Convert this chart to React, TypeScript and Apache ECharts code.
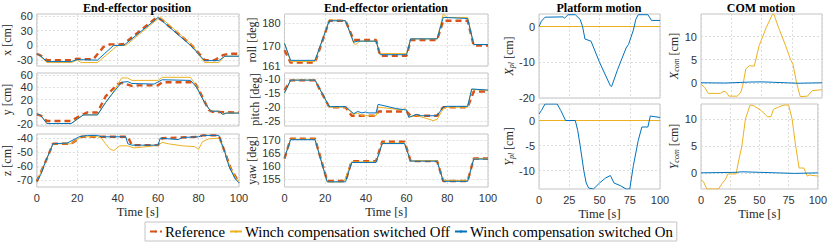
import React, { useEffect, useRef } from 'react';
import * as echarts from 'echarts';

// ---------- data (time [s], value) ----------
const posXRef = [[0,-17],[2,-21],[5,-30],[17,-30],[20,-27],[22,-28],[28,-28],[33,-3],[36,2],[41,2],[43,3],[59,56],[60,56],[62,51],[76,3],[83,-30],[88,-30],[92,-20],[95,-17],[100,-17]];
const posXOff = [[0,-17],[2,-23],[5,-35],[17,-35],[20,-30],[22,-35],[30,-35],[40,0],[44,0],[61,58],[77,0],[83,-35],[90,-35],[93,-22],[100,-22]];
const posXOn = [[0,-17],[2,-22],[5,-33],[17,-33],[20,-29],[30,-30],[38,0],[43,0],[60,57],[76,0],[83,-31],[90,-31],[93,-22],[100,-22]];

const posYRef = [[0,-4],[2,-6],[5,-15],[17,-15],[21,-7],[25,-1],[30,-1],[34,25],[40,45],[42,47],[47,42],[50,43],[60,43],[62,48],[78,48],[81,30],[85,3],[87,0],[100,-1]];
const posYOff = [[0,-3],[2,-6],[5,-19],[17,-19],[20,-12],[23,-5],[30,-5],[34,15],[37,28],[42,55],[45,55],[47,51],[60,51],[62,56],[76,56],[79,42],[83,15],[86,1],[90,1],[92,-4],[94,-2],[100,-2]];
const posYOn = [[0,-3],[2,-6],[5,-19],[17,-19],[20,-12],[23,-5],[30,-5],[34,15],[37,28],[42,48],[45,49],[47,46],[58,45],[62,52],[76,51],[79,40],[83,15],[86,1],[90,1],[92,-4],[94,-2],[100,-2]];

const posZRef = [[0,-71],[4,-58],[8,-44],[17,-44],[22,-39],[45,-39],[47,-45],[60,-45],[62,-40],[80,-39],[82,-38],[90,-38],[93,-50],[96,-62],[100,-72]];
const posZOff = [[0,-71],[4,-58],[8,-44],[17,-44],[22,-39],[30,-39],[32,-40],[34,-44],[36,-47.5],[38,-49],[41,-45.5],[45,-45.5],[48,-47],[55,-46],[60,-45],[62,-43],[65,-44],[72,-45.5],[78,-46],[80,-48],[82,-42.5],[85,-40.5],[90,-40],[93,-50],[96,-62],[99,-70],[100,-70.5]];
const posZOn = [[0,-71],[2,-66],[4,-58],[8,-44],[15,-43.5],[21,-39],[25,-38],[30,-38],[32,-39],[44,-39],[45,-44],[47,-45],[60,-45],[61,-40],[70,-41],[72,-39.5],[80,-39],[82,-38],[90,-38],[93,-50],[95,-60],[98,-69],[100,-72]];

const rollRef = [[0,168],[3,162.5],[15,162.5],[22,181],[30,181],[34,172.5],[45,172.5],[47,165.5],[60,165.5],[62,172.5],[75,172.5],[78,181],[90,181],[93,170],[100,170]];
const rollOff = [[0,171],[3,163],[15,163],[22,181.5],[30,181],[34,171],[35,170.5],[37,172],[45,172],[47,166.5],[60,166.5],[62,173],[75,173],[78,184],[80,182.5],[90,182.5],[93,170.5],[100,170.5]];
const rollOn = [[0,171],[3,163.5],[15,163.5],[22,181],[30,181],[34,171.5],[36,172],[45,172],[47,166],[60,166],[62,173],[75,173],[78,182.5],[90,182],[93,170.5],[100,170.5]];

const pitchRef = [[0,-14],[3,-10.6],[15,-10.6],[22,-20],[30,-20],[33,-23],[45,-23],[46,-21.5],[60,-21.5],[62,-23],[75,-23],[78,-20],[90,-20],[93,-14.5],[100,-14.5]];
const pitchOff = [[0,-15],[3,-10.5],[15,-10.5],[22,-20],[30,-20],[34,-22.5],[36,-22],[38,-23],[45,-23],[46,-20],[50,-20.3],[58,-21],[59,-20.3],[60,-21],[61,-23.5],[65,-23],[70,-24],[73,-24.7],[75,-24.3],[78,-20.5],[80,-20],[90,-20],[92,-13.8],[100,-14]];
const pitchOn = [[0,-15],[3,-10.5],[15,-10.5],[22,-19.8],[30,-19.8],[34,-22.3],[36,-21.5],[38,-22],[40,-21.7],[41,-22],[45,-22],[46,-19],[55,-20.5],[60,-21],[61,-23.5],[62,-23.3],[65,-22.5],[67,-23],[75,-23],[78,-19.9],[80,-19.7],[90,-19.7],[92,-13.6],[100,-14]];

const yawRef = [[0,163],[3,170.7],[15,170.7],[21,154.3],[30,154.3],[33,162],[45,162],[48,169.5],[59,169.5],[62,162],[75,162],[78,154.3],[90,154.3],[93,163],[100,163]];
const yawOff = [[0,163.3],[3,170.5],[15,170.5],[21,154],[29,154],[30,155.5],[33,161.7],[45,161.7],[48,169],[59,169],[62,162.2],[75,162.2],[78,154.5],[90,154.5],[93,163],[100,163]];
const yawOn = [[0,163.3],[3,170.3],[15,170.3],[21,154],[30,154],[33,161.5],[45,161.5],[48,168.8],[59,168.8],[62,162],[75,162],[78,154.2],[90,154.2],[93,162.8],[100,162.8]];

const xplOff = [[0,0],[100,0]];
const xplOn = [[0,0],[2,1.5],[5,2.6],[20,2.7],[21,2.3],[24,3.3],[30,3.3],[34,2],[36,0],[38,-3.5],[43,-4.1],[50,-10],[59,-16.6],[60,-16.8],[65,-12],[72,-6],[74,-5],[78,-1],[80,2],[82,3.3],[90,3.3],[93,1.7],[100,1.7]];
const yplOff = [[0,0],[100,0]];
const yplOn = [[0,1.3],[2,2],[5,3.3],[15,3.3],[18,2],[22,0],[30,0],[32,-2],[34,-5],[37,-10],[39,-12.5],[41,-13.5],[45,-13.7],[50,-12.5],[55,-11.5],[59,-11],[62,-12.5],[67,-13],[72,-13.7],[75,-13.7],[78,-9],[82,-4],[85,-1.3],[90,-1.3],[92,0.9],[100,0.6]];

const xcomOff = [[0,-0.3],[3,-1],[6,-2.3],[16,-2.3],[19,-1.8],[21,-2.1],[23,-2.9],[30,-2.9],[33,-2],[35,0],[37,3],[40,3.7],[44,3.6],[48,8],[54,12],[59,14.8],[60,15],[64,12],[70,8],[74,5],[76,4],[79,0],[82,-3],[88,-2.9],[92,-1.7],[100,-1.5]];
const xcomOn = [[0,0],[20,-0.05],[40,0.15],[50,0.2],[60,0.1],[80,-0.1],[100,0]];
const ycomOff = [[0,-1.3],[2,-1.6],[5,-3],[15,-3],[18,-2],[21,-1.2],[23,-0.2],[30,-0.2],[32,2],[35,5],[38,10],[42,12.6],[45,12.5],[52,11.5],[57,10.4],[60,10.5],[62,11.8],[67,12.3],[71,12.6],[75,12.6],[78,10],[81,5],[84,0.9],[88,0.9],[91,-0.6],[93,-0.4],[100,-0.6]];
const ycomOn = [[0,0],[30,0.1],[35,0.2],[50,0.1],[80,-0.1],[100,0]];

const titles = ['End-effector position', 'End-effector orientation', 'Platform motion', 'COM motion'];
const seriesNames = ['Reference', 'Winch compensation switched Off', 'Winch compensation switched On'];
const timeLabel = 'Time [s]';

// ---------- styling / layout ----------
const SERIF = '"Liberation Serif", "DejaVu Serif", serif';
const SANS = '"Liberation Sans", Arial, sans-serif';
const C_REF = '#D95319';
const C_OFF = '#EDB120';
const C_ON = '#0072BD';

const cols = [
  { left: 35.5, width: 203.5, gap: 21, xInt: 20, center: 137 },
  { left: 284.5, width: 203.5, gap: 18, xInt: 20, center: 386 },
  { left: 539, width: 121, gap: 21, xInt: 25, center: 599 },
  { left: 701, width: 121, gap: 21, xInt: 25, center: 761 },
];
const rows3 = [{ top: 14, height: 52 }, { top: 73, height: 53 }, { top: 134, height: 53 }];
const rows2 = [{ top: 14, height: 84 }, { top: 104, height: 85 }];

const panels: any[] = [
  { col: 0, row: 0, name: 'x [cm]', min: -42, max: 64, ticks: [-30, 0, 30, 60], ref: posXRef, off: posXOff, on: posXOn },
  { col: 0, row: 1, name: 'y [cm]', min: -23, max: 63, ticks: [-20, 0, 20, 40, 60], ref: posYRef, off: posYOff, on: posYOn },
  { col: 0, row: 2, name: 'z [cm]', min: -75, max: -37, ticks: [-70, -60, -50, -40], ref: posZRef, off: posZOff, on: posZOn, bottom: true },
  { col: 1, row: 0, name: 'roll [deg]', min: 161, max: 184, ticks: [161, 170, 180], ref: rollRef, off: rollOff, on: rollOn },
  { col: 1, row: 1, name: 'pitch [deg]', min: -26.6, max: -8, ticks: [-25, -20, -15, -10], ref: pitchRef, off: pitchOff, on: pitchOn },
  { col: 1, row: 2, name: 'yaw [deg]', min: 152, max: 172.5, ticks: [155, 160, 165, 170], ref: yawRef, off: yawOff, on: yawOn, bottom: true },
  { col: 2, row: 0, name: '{i|X}{s|pl} [cm]', min: -20, max: 3.5, ticks: [-20, -10, 0], off: xplOff, on: xplOn },
  { col: 2, row: 1, name: '{i|Y}{s|pl} [cm]', min: -13.7, max: 3.3, ticks: [-10, -5, 0], off: yplOff, on: yplOn, bottom: true },
  { col: 3, row: 0, name: '{i|X}{s|com} [cm]', min: -3.3, max: 14.9, ticks: [0, 5, 10], off: xcomOff, on: xcomOn },
  { col: 3, row: 1, name: '{i|Y}{s|com} [cm]', min: -3, max: 12.8, ticks: [0, 5, 10], off: ycomOff, on: ycomOn, bottom: true },
];

function buildOption() {
  const grid: any[] = [];
  const xAxis: any[] = [];
  const yAxis: any[] = [];
  const series: any[] = [];
  const splitLine = { show: true, lineStyle: { color: '#d4d4d4', type: [2, 2], width: 0.8 } };

  panels.forEach((p, i) => {
    const c = cols[p.col];
    const r = p.col < 2 ? rows3[p.row] : rows2[p.row];
    grid.push({ left: c.left, width: c.width, top: r.top, height: r.height, show: true, borderColor: '#c4c4c4', borderWidth: 1, containLabel: false });
    xAxis.push({
      type: 'value', gridIndex: i, min: 0, max: 100, interval: c.xInt,
      axisLine: { show: false }, axisTick: { show: false },
      axisLabel: { show: !!p.bottom, fontFamily: SANS, fontSize: 11, color: '#333', margin: 5 },
      splitLine,
      name: p.bottom ? timeLabel : '', nameLocation: 'middle', nameGap: 18,
      nameTextStyle: { fontFamily: SERIF, fontSize: 12.5, color: '#262626' },
    });
    yAxis.push({
      type: 'value', gridIndex: i, min: p.min, max: p.max,
      axisLine: { show: false },
      axisTick: { show: false, customValues: p.ticks },
      axisLabel: { fontFamily: SANS, fontSize: 11, color: '#333', margin: 4, customValues: p.ticks },
      splitLine,
      name: p.name, nameLocation: 'middle', nameGap: c.gap,
      nameTextStyle: {
        fontFamily: SERIF, fontSize: 12, color: '#262626',
        rich: {
          i: { fontFamily: SERIF, fontSize: 12, fontStyle: 'italic', color: '#262626' },
          s: { fontFamily: SERIF, fontSize: 8, fontStyle: 'italic', color: '#262626', padding: [4, 0, 0, 0] },
        },
      },
    });
    const common = { type: 'line', xAxisIndex: i, yAxisIndex: i, symbol: 'none', showSymbol: false, silent: true };
    if (p.ref) {
      series.push({ ...common, name: seriesNames[0], data: p.ref, z: 2, itemStyle: { color: C_REF }, lineStyle: { color: C_REF, width: 2.4, type: [6, 4] } });
    }
    series.push({ ...common, name: seriesNames[1], data: p.off, z: 3, itemStyle: { color: C_OFF }, lineStyle: { color: C_OFF, width: 1 } });
    series.push({ ...common, name: seriesNames[2], data: p.on, z: 4, itemStyle: { color: C_ON }, lineStyle: { color: C_ON, width: 1 } });
  });

  const graphic = titles.map((t, k) => ({
    type: 'text', x: cols[k].center, y: 8,
    style: { text: t, font: `bold 12px ${SERIF}`, fill: '#000', align: 'center', verticalAlign: 'middle' },
  }));

  return {
    animation: false,
    backgroundColor: '#fff',
    grid, xAxis, yAxis, series, graphic,
    legend: {
      data: seriesNames, left: 145, top: 222, orient: 'horizontal',
      itemWidth: 12, itemHeight: 3, itemGap: 4,
      padding: [2, 4, 2, 4],
      borderColor: '#c4c4c4', borderWidth: 1, backgroundColor: '#fff',
      textStyle: { fontFamily: SERIF, fontSize: 14.8, color: '#000', padding: [0, 0, 0, -2] },
      selectedMode: false,
    },
  };
}

export default function App() {
  const ref = useRef<HTMLDivElement>(null);
  useEffect(() => {
    const chart = echarts.init(ref.current!, null, { renderer: 'svg' });
    chart.setOption(buildOption() as any);
    return () => chart.dispose();
  }, []);
  return <div ref={ref} style={{ position: 'absolute', left: 0, top: 0, width: 830, height: 242 }} />;
}
